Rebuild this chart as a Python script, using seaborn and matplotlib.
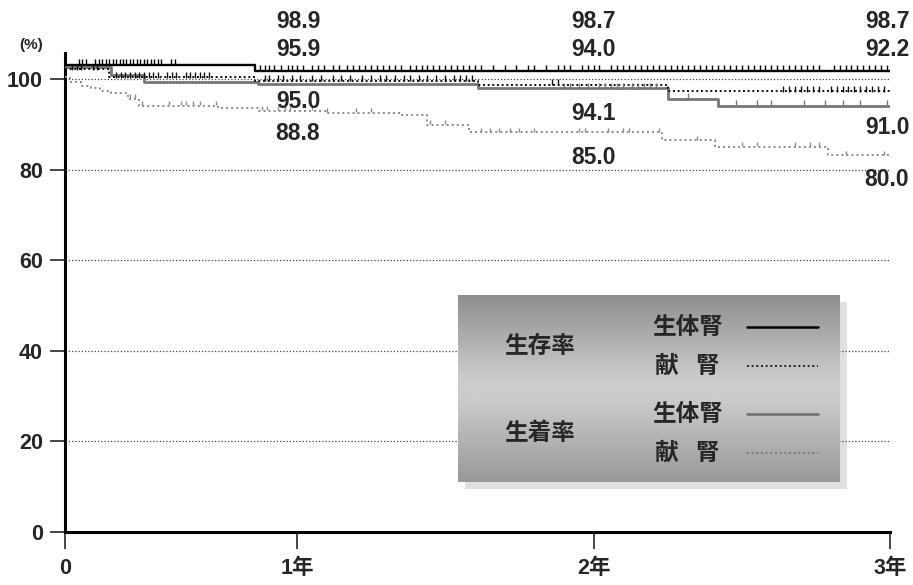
import numpy as np
import pandas as pd
import matplotlib
matplotlib.use("Agg")
import matplotlib.pyplot as plt
import seaborn as sns
from matplotlib.patches import Rectangle

# ---------------- data (as drawn) ----------------
ls_t = [0, 0.82, 3.0]
ls_v = [103.2, 101.8, 101.8]
ds_t = [0, 0.19, 0.82, 1.61, 2.25, 3.0]
ds_v = [102.2, 100.4, 99.6, 98.7, 97.3, 97.3]
lg_t = [0, 0.20, 0.34, 0.83, 1.61, 2.25, 2.42, 3.0]
lg_v = [102.8, 101.0, 99.4, 98.9, 98.0, 95.6, 94.1, 94.1]
dg_t = [0, 0.02, 0.07, 0.11, 0.15, 0.20, 0.27, 0.32, 0.66, 0.83, 1.10, 1.35, 1.44, 1.58, 2.23, 2.41, 2.79, 3.0]
dg_v = [100.6, 99.3, 98.6, 98.0, 97.5, 97.0, 95.6, 94.1, 93.6, 93.0, 92.6, 92.0, 90.0, 88.3, 86.5, 85.0, 83.2, 83.2]

ls_cens = [0.06, 0.075, 0.09, 0.13, 0.145, 0.16, 0.175, 0.19, 0.205, 0.22, 0.235, 0.25, 0.265, 0.28,
           0.295, 0.31, 0.325, 0.34, 0.355, 0.37, 0.385, 0.40, 0.415, 0.455, 0.475,
           0.84, 0.86, 0.88, 0.90, 0.93, 0.96, 0.98, 1.00, 1.02, 1.05, 1.07, 1.09, 1.12, 1.14, 1.17,
           1.19, 1.21, 1.23, 1.25, 1.27, 1.29, 1.31, 1.33, 1.35, 1.38, 1.40, 1.42, 1.44, 1.46, 1.48,
           1.50, 1.52, 1.54, 1.56, 1.58, 1.60, 1.62, 1.66, 1.70, 1.74, 1.78, 1.80, 1.84, 1.88, 1.90,
           1.92, 1.96, 1.98, 2.00, 2.02, 2.06, 2.08, 2.10, 2.12, 2.14, 2.16, 2.18, 2.20, 2.22, 2.24,
           2.26, 2.28, 2.30, 2.32, 2.34, 2.36, 2.38, 2.40, 2.42, 2.44, 2.46, 2.48, 2.50, 2.52, 2.54,
           2.56, 2.58, 2.60, 2.62, 2.64, 2.66, 2.68, 2.70, 2.72, 2.74, 2.76, 2.81, 2.83, 2.85, 2.87,
           2.89, 2.91, 2.93, 2.95, 2.97, 2.99]
ds_cens = [0.03, 0.05, 0.07, 0.12, 0.14,
           0.22, 0.24, 0.26, 0.28, 0.30, 0.32, 0.34, 0.36, 0.38, 0.40, 0.44, 0.46, 0.48, 0.52, 0.54,
           0.56, 0.58, 0.60, 0.62,
           0.86, 0.88, 0.92, 0.94, 0.98, 1.01, 1.05, 1.08, 1.12, 1.15, 1.18, 1.22, 1.25, 1.28, 1.30,
           1.33, 1.36, 1.38, 1.41, 1.44, 1.47, 1.50, 1.53, 1.55, 1.57, 1.59,
           1.86, 1.88,
           2.64, 2.66, 2.68, 2.70, 2.72, 2.74, 2.76, 2.80, 2.82, 2.84, 2.86, 2.88, 2.90, 2.92, 2.94,
           2.96, 2.98]
lg_cens = [1.90, 1.92, 1.95, 1.98, 2.02, 2.04, 2.06, 2.08, 2.10, 2.13, 2.15, 2.17, 2.19, 2.21,
           2.32, 2.48, 2.55, 2.60, 2.71, 2.78, 2.84, 2.90, 2.99]
dg_cens = [0.28, 0.30, 0.33, 0.45, 0.50, 0.52, 0.55, 0.58, 0.65, 0.85, 0.87, 0.92, 0.95, 0.97,
           1.05, 1.10, 1.20, 1.25, 1.45, 1.50, 1.62, 1.65, 1.68, 1.72, 1.75, 1.80, 1.95, 1.97,
           2.05, 2.10, 2.12, 2.22, 2.35, 2.50, 2.55, 2.68, 2.73, 2.76, 2.85, 2.98]

x_ticks = [0, 1, 2, 3]
x_labels = ["0", "1年", "2年", "3年"]
y_ticks = [0, 20, 40, 60, 80, 100]
grid_levels = [20, 40, 60, 80, 100]

col_x = [298, 593, 887]
labels_top1 = ["98.9", "98.7", "98.7"]
labels_top2 = ["95.9", "94.0", "92.2"]
labels_bot1 = ["95.0", "94.1", "91.0"]
labels_bot2 = ["88.8", "85.0", "80.0"]
y_top1 = [22, 22, 22]
y_top2 = [50, 50, 50]
y_bot1 = [101, 113, 127]
y_bot2 = [133, 158, 180]

# ---------------- style ----------------
sns.set_theme(style="white")
plt.rcParams['font.family'] = ['Liberation Sans', 'Noto Sans CJK JP', 'DejaVu Sans']
plt.rcParams['font.weight'] = 'bold'

W, H = 913, 585
fig = plt.figure(figsize=(W / 100, H / 100), dpi=100)
ax = fig.add_axes([65 / W, (H - 532) / H, (890 - 65) / W, (532 - 53) / H])

K = 232 / 296.5
def fwd(x):
    x = np.asarray(x, dtype=float)
    return np.where(x <= 1, x * K, K + (x - 1))
def inv(u):
    u = np.asarray(u, dtype=float)
    return np.where(u <= K, u / K, (u - K) + 1)
ax.set_xscale('function', functions=(fwd, inv))

for lvl in grid_levels:
    ax.axhline(lvl, color='#444444', lw=0.9, ls=(0, (1, 1.6)), zorder=1)

curves = [
    (dg_t, dg_v, dg_cens, '#8a8a8a', (0, (1, 1.6)), 1.4, 3.5),
    (lg_t, lg_v, lg_cens, '#777777', '-', 2.0, 4.5),
    (ds_t, ds_v, ds_cens, '#111111', (0, (1, 1.4)), 1.4, 4.5),
    (ls_t, ls_v, ls_cens, '#000000', '-', 1.7, 4.5),
]
for t, v, cens, col, lst, lw, ms in curves:
    df = pd.DataFrame({'t': t, 'v': v})
    sns.lineplot(data=df, x='t', y='v', drawstyle='steps-post', color=col,
                 linestyle=lst, lw=lw, ax=ax, zorder=3, estimator=None)
    idx = np.searchsorted(np.asarray(t), np.asarray(cens), side='right') - 1
    cv = np.asarray(v)[idx]
    ax.plot(cens, cv + 0.6, ls='none', marker='|', ms=ms, mew=1.0, color=col, zorder=4)

ax.set_xlim(0, 3)
ax.set_ylim(0, 105.8)
ax.set_xlabel('')
ax.set_ylabel('')
ax.set_xticks(x_ticks)
ax.set_yticks(y_ticks)
ax.set_xticklabels(x_labels, fontsize=15.5, fontweight='bold')
ax.set_yticklabels([str(v) for v in y_ticks], fontsize=15.5, fontweight='bold')
ax.tick_params(axis='x', length=12, width=1.2, pad=7, direction='out', bottom=True)
ax.tick_params(axis='y', length=11, width=1.2, pad=5, direction='out', left=True)
for s in ['top', 'right']:
    ax.spines[s].set_visible(False)
for s in ['left', 'bottom']:
    ax.spines[s].set_linewidth(2.2)
    ax.spines[s].set_color('black')
ax.patch.set_alpha(0)

fig.text(31 / W, 1 - 45 / H, "(%)", ha='center', va='center', fontsize=11, fontweight='bold')

for texts, ys in [(labels_top1, y_top1), (labels_top2, y_top2), (labels_bot1, y_bot1), (labels_bot2, y_bot2)]:
    for tx, xp, yp in zip(texts, col_x, ys):
        fig.text(xp / W, 1 - yp / H, tx, ha='center', va='center', fontsize=16.5, fontweight='bold')

# ---------------- legend box ----------------
L, R, T, B = 458, 840, 295, 482
shadow = Rectangle(((L + 7) / W, 1 - (B + 7) / H), (R - L) / W, (B - T) / H,
                   transform=fig.transFigure, facecolor='#e0e0e0', edgecolor='none',
                   zorder=0, clip_on=False)
ax.add_patch(shadow)
lax = fig.add_axes([L / W, 1 - B / H, (R - L) / W, (B - T) / H])
grad = np.interp(np.linspace(0, 1, 200), [0, 0.45, 0.55, 1.0], [0.56, 0.80, 0.80, 0.60])
lax.imshow(grad[:, None] * np.ones((1, 10)), cmap='gray', vmin=0, vmax=1, aspect='auto',
           extent=[L, R, B, T], interpolation='bicubic', zorder=0)
lax.set_xlim(L, R)
lax.set_ylim(B, T)
lax.axis('off')

cjk = ['Noto Sans CJK JP', 'DejaVu Sans']
lfs = 17
lax.text(540, 346, "生存率", ha='center', va='center', fontsize=lfs, fontweight='bold', family=cjk)
lax.text(540, 433, "生着率", ha='center', va='center', fontsize=lfs, fontweight='bold', family=cjk)
for yy in [327, 414]:
    lax.text(688, yy, "生体腎", ha='center', va='center', fontsize=lfs, fontweight='bold', family=cjk)
for yy in [366, 453]:
    lax.text(667, yy, "献", ha='center', va='center', fontsize=lfs, fontweight='bold', family=cjk)
    lax.text(707, yy, "腎", ha='center', va='center', fontsize=lfs, fontweight='bold', family=cjk)
lax.plot([747, 818], [327, 327], color='#000000', lw=1.8)
lax.plot([747, 818], [366, 366], color='#222222', lw=1.4, ls=(0, (1, 1.4)))
lax.plot([747, 818], [414, 414], color='#6e6e6e', lw=1.8)
lax.plot([747, 818], [453, 453], color='#7a7a7a', lw=1.4, ls=(0, (1, 1.4)))

fig.savefig("out.png", dpi=100)
